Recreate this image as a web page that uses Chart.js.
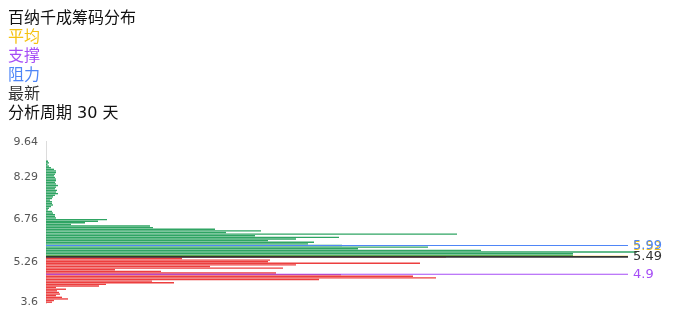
<!DOCTYPE html>
<html>
<head>
<meta charset="utf-8">
<script src="https://cdn.jsdelivr.net/npm/chart.js@4.4.1/dist/chart.umd.min.js"></script>
<style>
  html, body { margin: 0; padding: 0; background: #fff; }
  #wrap { position: relative; width: 696px; height: 320px; font-family: "DejaVu Sans", "Noto Sans CJK SC", sans-serif; }
  #head { position: absolute; left: 8px; top: 8px; font-size: 16px; line-height: 19px; color: #111; }
  #wrap canvas { position: absolute; left: 0; top: 0; }
</style>
</head>
<body>
<div id="wrap">
  <canvas id="chips" width="696" height="320"></canvas>
  <div id="head"></div>
</div>
<script>
/* chip distribution for 百纳千成, 30-day window */
var TITLE = "百纳千成筹码分布";
var PERIOD_DAYS = 30;

// price bins, top (high) to bottom (low)
var PRICE_BINS = [
  9.64, 9.58, 9.52, 9.46, 9.39, 9.33, 9.27, 9.21, 9.15, 9.09,
  9.03, 8.96, 8.90, 8.84, 8.78, 8.72, 8.66, 8.60, 8.54, 8.47,
  8.41, 8.35, 8.29, 8.23, 8.17, 8.11, 8.05, 7.99, 7.94, 7.88,
  7.82, 7.76, 7.70, 7.64, 7.58, 7.53, 7.47, 7.41, 7.35, 7.29,
  7.23, 7.17, 7.12, 7.06, 7.00, 6.94, 6.88, 6.82, 6.76, 6.71,
  6.66, 6.62, 6.57, 6.52, 6.47, 6.42, 6.38, 6.33, 6.28, 6.23,
  6.18, 6.14, 6.09, 6.04, 5.99, 5.92, 5.86, 5.79, 5.72, 5.66,
  5.59, 5.49, 5.41, 5.34, 5.26, 5.21, 5.17, 5.12, 5.07, 5.03,
  4.98, 4.93, 4.89, 4.81, 4.74, 4.66, 4.58, 4.51, 4.43, 4.36,
  4.28, 4.20, 4.13, 4.05, 3.98, 3.90, 3.83, 3.75, 3.67, 3.60
];

// chip volume per bin (relative)
var CHIPS = [
  0, 0, 0, 0, 0, 0, 0, 0, 0, 0,
  0, 0, 2, 3, 1.5, 3, 5, 8, 10, 10,
  9, 8, 9, 10, 10, 9, 10, 12, 10, 9,
  11, 10, 12, 9, 7, 6, 4, 6, 6, 7,
  5, 3, 2, 6, 7, 9, 9, 10, 61, 52,
  39, 25, 104, 107, 169, 215, 180, 411, 209, 293,
  250, 222, 268, 262, 296, 382, 312, 435, 591, 527,
  527, 400, 136, 224, 222, 374, 250, 164, 237, 69,
  115, 230, 295, 367, 390, 273, 106, 128, 60, 53,
  10, 20, 11, 13, 14, 10, 16, 22, 8, 6
];
var CHIPS_MAX = 591;

var TICK_LABELS = ["9.64", "8.29", "6.76", "5.26", "3.6"];

// reference levels: 平均 / 支撑 / 阻力 / 最新
var LEVEL_NAMES  = ["平均", "支撑", "阻力", "最新"];
var LEVEL_VALUES = [5.52, 4.9, 5.99, 5.49];
var LEVEL_COLORS = ["#f5c211", "#a64df6", "#4f86f7", "#333333"];
var LATEST_PRICE = 5.49;

var GREEN = "#2fa463";
var RED = "#ec3f3f";

// header text
(function () {
  var h = document.getElementById("head");
  var rows = [{ t: TITLE, c: "#111" }];
  LEVEL_NAMES.forEach(function (n, k) { rows.push({ t: n, c: LEVEL_COLORS[k] }); });
  rows.push({ t: "分析周期 " + PERIOD_DAYS + " 天", c: "#111" });
  h.innerHTML = rows.map(function (r) {
    return '<div style="color:' + r.c + ';">' + r.t + '</div>';
  }).join("");
})();

/* fractional bin index for a price, so a level can sit between two bins */
function priceToIndex(p) {
  for (var i = 0; i < PRICE_BINS.length - 1; i++) {
    var a = PRICE_BINS[i], b = PRICE_BINS[i + 1];
    if (p <= a && p >= b) return i + (a - p) / (a - b);
  }
  return p > PRICE_BINS[0] ? 0 : PRICE_BINS.length - 1;
}

var levelLines = {
  id: "levelLines",
  afterDatasetsDraw: function (chart) {
    var ys = chart.scales.y, area = chart.chartArea, ctx = chart.ctx;
    var x1 = area.right - 9;
    var latestY = ys.getPixelForValue(priceToIndex(LATEST_PRICE));
    ctx.save();
    ctx.font = '13px "DejaVu Sans", sans-serif';
    ctx.textBaseline = "middle";
    ctx.textAlign = "left";
    LEVEL_VALUES.forEach(function (v, k) {
      var py = ys.getPixelForValue(priceToIndex(v));
      ctx.strokeStyle = LEVEL_COLORS[k];
      ctx.lineWidth = v === LATEST_PRICE ? 1.6 : 1.2;
      ctx.beginPath();
      ctx.moveTo(area.left, py);
      ctx.lineTo(x1, py);
      ctx.stroke();
      var ty = py;
      if (v !== LATEST_PRICE && Math.abs(py - latestY) < 10) ty = latestY - 10;   // keep off the latest label
      ctx.fillStyle = LEVEL_COLORS[k];
      ctx.fillText(String(v), x1 + 5, ty);
    });
    ctx.restore();
  }
};

new Chart(document.getElementById("chips"), {
  type: "bar",
  data: {
    labels: PRICE_BINS.map(String),
    datasets: [{
      data: CHIPS,
      backgroundColor: PRICE_BINS.map(function (p) { return p > LATEST_PRICE ? GREEN : RED; }),
      borderWidth: 0,
      barPercentage: 0.85,
      categoryPercentage: 1
    }]
  },
  options: {
    indexAxis: "y",
    responsive: false,
    animation: false,
    layout: { padding: { top: 141, right: 59, bottom: 17, left: 0 } },
    plugins: { legend: { display: false }, tooltip: { enabled: false } },
    scales: {
      x: { display: false, min: 0, max: CHIPS_MAX },
      y: {
        grid: { display: false, drawTicks: false },
        border: { display: true, color: "#dcdcdc", width: 1 },
        afterFit: function (s) { s.width = 46; },
        ticks: {
          autoSkip: false,
          padding: 8,
          color: "#555",
          font: { family: "DejaVu Sans", size: 11 },
          callback: function (v, i) {
            var t = String(PRICE_BINS[i]);
            return TICK_LABELS.indexOf(t) >= 0 ? t : "";
          }
        }
      }
    }
  },
  plugins: [levelLines]
});
</script>
</body>
</html>
